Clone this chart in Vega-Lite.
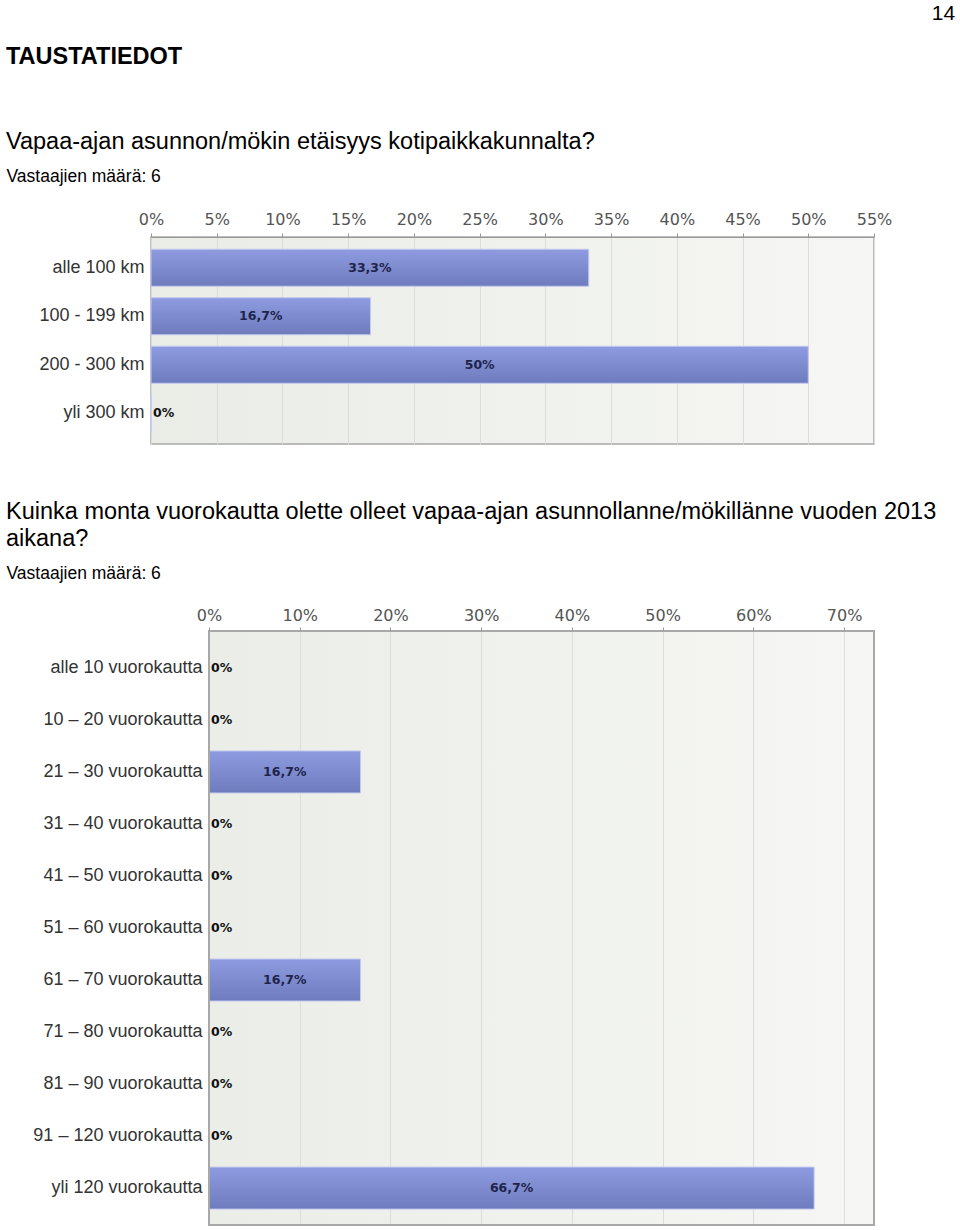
{
  "$schema": "https://vega.github.io/schema/vega-lite/v6.json",
  "padding": {"left": 5, "top": 3, "right": 5, "bottom": 0},
  "background": "white",
  "title": {"text": "14", "anchor": "end", "frame": "bounds", "font": "Liberation Sans", "fontSize": 21, "fontWeight": "normal", "color": "black", "offset": 20, "dx": 19},
  "spacing": 54,
  "config": {
    "view": {"stroke": "#a8a8a8", "strokeWidth": 1.5, "fill": {"gradient": "linear", "x1": 0, "y1": 0, "x2": 1, "y2": 0, "stops": [{"offset": 0, "color": "#eaece6"}, {"offset": 1, "color": "#f6f7f4"}]}},
    "axisX": {"orient": "top", "grid": true, "domainColor": "#999999", "tickColor": "#999999", "tickSize": 4, "labelPadding": 6, "labelFont": "DejaVu Sans", "labelFontSize": 16, "labelColor": "#555555", "gridColor": "#dcdcdc", "labelFlush": false, "titleFont": "Liberation Sans", "titleFontSize": 17.5, "titleFontWeight": "normal", "titleColor": "black", "titleAlign": "left", "titleBaseline": "alphabetic", "titleAnchor": "start"},
    "axisY": {"domain": false, "ticks": false, "grid": false, "labelPadding": 7, "labelFont": "Liberation Sans", "labelFontSize": 18, "labelColor": "#333333", "title": null},
    "title": {"font": "Liberation Sans", "color": "black", "anchor": "start", "frame": "group"}
  },
  "vconcat": [
    {
      "width": 723,
      "height": 207,
      "title": {"text": "TAUSTATIEDOT", "subtitle": "Vapaa-ajan asunnon/mökin etäisyys kotipaikkakunnalta?", "dx": -145, "fontSize": 23.5, "fontWeight": "bold", "subtitleFont": "Liberation Sans", "subtitleFontSize": 23.5, "subtitleColor": "black", "subtitlePadding": 61, "offset": 14},
      "data": {"values": [
        {"k": "alle 100 km", "v": 33.3, "label": "33,3%"},
        {"k": "100 - 199 km", "v": 16.7, "label": "16,7%"},
        {"k": "200 - 300 km", "v": 50, "label": "50%"},
        {"k": "yli 300 km", "v": 0, "label": "0%"}
      ]},
      "encoding": {
        "y": {"field": "k", "type": "nominal", "sort": null, "scale": {"paddingInner": 0.237, "paddingOuter": 0.2525}}
      },
      "layer": [
        {
          "mark": {"type": "bar", "stroke": "#c3c9ee", "strokeWidth": 1, "color": {"gradient": "linear", "x1": 0, "y1": 0, "x2": 0, "y2": 1, "stops": [{"offset": 0, "color": "#8e9be0"}, {"offset": 1, "color": "#6e7cbe"}]}},
          "encoding": {
            "x": {"field": "v", "type": "quantitative", "scale": {"domain": [0, 55], "nice": false}, "axis": {"values": [0, 5, 10, 15, 20, 25, 30, 35, 40, 45, 50, 55], "labelExpr": "datum.value + '%'", "title": "Vastaajien määrä: 6", "titleX": -145, "titleY": -56}}
          }
        },
        {
          "transform": [{"filter": "datum.v > 0"}],
          "mark": {"type": "text", "font": "DejaVu Sans", "fontSize": 12.5, "fontWeight": "bold", "color": "#20244a", "align": "center", "baseline": "middle"},
          "encoding": {
            "x": {"field": "v", "type": "quantitative", "stack": "zero", "bandPosition": 0.5},
            "detail": {"field": "k"},
            "text": {"field": "label"}
          }
        },
        {
          "transform": [{"filter": "datum.v == 0"}],
          "mark": {"type": "text", "font": "DejaVu Sans", "fontSize": 12.5, "fontWeight": "bold", "color": "#111111", "align": "left", "baseline": "middle", "dx": 2},
          "encoding": {
            "x": {"field": "v", "type": "quantitative"},
            "text": {"field": "label"}
          }
        }
      ]
    },
    {
      "width": 723,
      "height": 594,
      "view": {"stroke": null},
      "title": {"text": ["Kuinka monta vuorokautta olette olleet vapaa-ajan asunnollanne/mökillänne vuoden 2013", "aikana?"], "dx": -145, "fontSize": 23.5, "fontWeight": "normal", "lineHeight": 27, "offset": 14},
      "data": {"values": [
        {"k": "alle 10 vuorokautta", "v": 0, "label": "0%"},
        {"k": "10 – 20 vuorokautta", "v": 0, "label": "0%"},
        {"k": "21 – 30 vuorokautta", "v": 16.7, "label": "16,7%"},
        {"k": "31 – 40 vuorokautta", "v": 0, "label": "0%"},
        {"k": "41 – 50 vuorokautta", "v": 0, "label": "0%"},
        {"k": "51 – 60 vuorokautta", "v": 0, "label": "0%"},
        {"k": "61 – 70 vuorokautta", "v": 16.7, "label": "16,7%"},
        {"k": "71 – 80 vuorokautta", "v": 0, "label": "0%"},
        {"k": "81 – 90 vuorokautta", "v": 0, "label": "0%"},
        {"k": "91 – 120 vuorokautta", "v": 0, "label": "0%"},
        {"k": "yli 120 vuorokautta", "v": 66.7, "label": "66,7%"}
      ]},
      "encoding": {
        "y": {"field": "k", "type": "nominal", "sort": null, "scale": {"paddingInner": 0.192, "paddingOuter": 0.306}, "axis": {"labelPadding": -51, "zindex": 1}}
      },
      "layer": [
        {
          "mark": {"type": "rect", "fill": "white", "strokeWidth": 0},
          "encoding": {
            "x": {"datum": -6.394, "type": "quantitative", "axis": {"grid": true}},
            "x2": {"datum": 0},
            "y": null
          }
        },
        {
          "mark": {"type": "bar", "stroke": "#c3c9ee", "strokeWidth": 1, "color": {"gradient": "linear", "x1": 0, "y1": 0, "x2": 0, "y2": 1, "stops": [{"offset": 0, "color": "#8e9be0"}, {"offset": 1, "color": "#6e7cbe"}]}},
          "encoding": {
            "x": {"field": "v", "type": "quantitative", "scale": {"domain": [-6.394, 73.3], "nice": false, "zero": false}, "axis": {"values": [0, 10, 20, 30, 40, 50, 60, 70], "grid": true, "labelExpr": "datum.value + '%'", "labelPadding": 4, "domain": false, "title": "Vastaajien määrä: 6", "titleX": -145, "titleY": -53}}
          }
        },
        {
          "transform": [{"filter": "datum.v > 0"}],
          "mark": {"type": "text", "font": "DejaVu Sans", "fontSize": 12.5, "fontWeight": "bold", "color": "#20244a", "align": "center", "baseline": "middle"},
          "encoding": {
            "x": {"field": "v", "type": "quantitative", "stack": "zero", "bandPosition": 0.5},
            "detail": {"field": "k"},
            "text": {"field": "label"}
          }
        },
        {
          "transform": [{"filter": "datum.v == 0"}],
          "mark": {"type": "text", "font": "DejaVu Sans", "fontSize": 12.5, "fontWeight": "bold", "color": "#111111", "align": "left", "baseline": "middle", "dx": 2},
          "encoding": {
            "x": {"field": "v", "type": "quantitative"},
            "text": {"field": "label"}
          }
        },
        {
          "mark": {"type": "rect", "fill": null, "stroke": "#a8a8a8", "strokeWidth": 1.5},
          "encoding": {
            "x": {"datum": 0, "type": "quantitative"},
            "x2": {"datum": 73.3},
            "y": null
          }
        }
      ]
    }
  ]
}
